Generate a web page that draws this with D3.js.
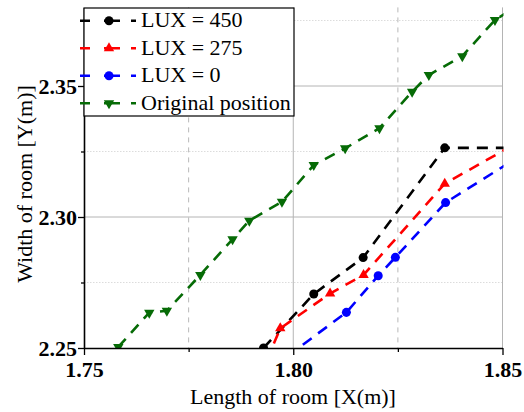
<!DOCTYPE html>
<html>
<head>
<meta charset="utf-8">
<script src="https://cdn.jsdelivr.net/npm/d3@7"></script>
<style>
  html, body { margin: 0; padding: 0; background: #fff; }
  svg { display: block; }
  text { font-family: "Liberation Serif", "Times New Roman", "DejaVu Serif", serif; }
</style>
</head>
<body>
<svg id="chart" width="524" height="412"></svg>
<script>
// ---- data ----
const seriesNames = ["LUX = 450", "LUX = 275", "LUX = 0", "Original position"];
const lux450X = [1.7929, 1.8049, 1.8167, 1.8362, 1.8600];
const lux450Y = [2.2500, 2.2706, 2.2845, 2.3264, 2.3264];
const lux275X = [1.7936, 1.7969, 1.8088, 1.8168, 1.8362, 1.8560];
const lux275Y = [2.2450, 2.2575, 2.2708, 2.2779, 2.3127, 2.3306];
const lux0X = [1.7950, 1.8127, 1.8203, 1.8244, 1.8364, 1.8560];
const lux0Y = [2.2426, 2.2636, 2.2776, 2.2846, 2.3055, 2.3251];
const origX = [1.7582, 1.7656, 1.7698, 1.7778, 1.7855, 1.7895, 1.7973, 1.8049, 1.8124, 1.8206, 1.8284, 1.8324, 1.8404, 1.8482, 1.8560];
const origY = [2.2504, 2.2635, 2.2642, 2.2779, 2.2915, 2.2986, 2.3058, 2.3198, 2.3262, 2.3339, 2.3478, 2.3542, 2.3614, 2.3752, 2.3830];
const xTickValues = [1.75, 1.80, 1.85];
const xTickLabels = ["1.75", "1.80", "1.85"];
const xMinorTicks = [1.775, 1.825];
const yTickValues = [2.25, 2.30, 2.35];
const yTickLabels = ["2.25", "2.30", "2.35"];
const yMinorTicks = [2.275, 2.325, 2.375];
const xLabel = "Length of room [X(m)]";
const yLabel = "Width of room [Y(m)]";

// ---- styling ----
const colors = ["#000000", "#ff0000", "#0000ff", "#066b06"];
const markers = ["circle", "triUp", "circle", "triDown"];

const svg = d3.select("#chart");
const pLeft = 84, pRight = 502.5, pTop = 7.4, pBottom = 348;
const x = d3.scaleLinear().domain([1.75, 1.85]).range([pLeft, pRight]);
const y = d3.scaleLinear().domain([2.25, 2.38]).range([pBottom, pTop]);

svg.append("defs").append("clipPath").attr("id", "plotclip")
  .append("rect").attr("x", pLeft).attr("y", pTop).attr("width", pRight - pLeft + 1).attr("height", pBottom - pTop);

// grid
const grid = svg.append("g");
grid.selectAll(".hmaj").data(yTickValues.slice(1)).join("line")
  .attr("x1", pLeft).attr("x2", pRight).attr("y1", d => y(d)).attr("y2", d => y(d))
  .attr("stroke", "#b4b4b4").attr("stroke-width", 1);
grid.selectAll(".hmin").data(yMinorTicks).join("line")
  .attr("x1", pLeft).attr("x2", pRight).attr("y1", d => y(d)).attr("y2", d => y(d))
  .attr("stroke", "#dcdcdc").attr("stroke-width", 1).attr("stroke-dasharray", "1.5,1.5");
grid.selectAll(".vmaj").data(xTickValues.slice(1)).join("line")
  .attr("x1", d => x(d)).attr("x2", d => x(d)).attr("y1", pTop).attr("y2", pBottom)
  .attr("stroke", "#b4b4b4").attr("stroke-width", 1);
grid.selectAll(".vmin").data(xMinorTicks).join("line")
  .attr("x1", d => x(d)).attr("x2", d => x(d)).attr("y1", pTop).attr("y2", pBottom)
  .attr("stroke", "#b8b8b8").attr("stroke-width", 1).attr("stroke-dasharray", "5,5");

// series
const series = [
  {xs: lux450X, ys: lux450Y},
  {xs: lux275X, ys: lux275Y},
  {xs: lux0X, ys: lux0Y},
  {xs: origX, ys: origY}
];
function markerPath(type) {
  if (type === "triUp") return "M0,-6L5.2,3L-5.2,3Z";
  if (type === "triDown") return "M0,6L5.2,-3L-5.2,-3Z";
  return d3.symbol(d3.symbolCircle, 64)();
}
const line = d3.line().x(d => x(d[0])).y(d => y(d[1]));
const plot = svg.append("g").attr("clip-path", "url(#plotclip)");
series.forEach((s, i) => {
  const pts = s.xs.map((v, k) => [v, s.ys[k]]);
  plot.append("path").attr("d", line(pts)).attr("fill", "none")
    .attr("stroke", colors[i]).attr("stroke-width", 2.6).attr("stroke-dasharray", "11,8");
  plot.selectAll(null).data(pts).join("path")
    .attr("transform", d => `translate(${x(d[0])},${y(d[1])})`)
    .attr("d", markerPath(markers[i])).attr("fill", colors[i]);
});

// axes
const xAxis = svg.append("g").attr("transform", `translate(0,${pBottom})`)
  .call(d3.axisBottom(x).tickValues(xTickValues).tickFormat((d, i) => xTickLabels[i]).tickSize(7).tickSizeOuter(0));
svg.append("g").attr("transform", `translate(0,${pBottom})`)
  .call(d3.axisBottom(x).tickValues(xMinorTicks).tickFormat("").tickSize(4).tickSizeOuter(0))
  .call(g => g.select(".domain").remove());
const yAxis = svg.append("g").attr("transform", `translate(${pLeft},0)`)
  .call(d3.axisLeft(y).tickValues(yTickValues).tickFormat((d, i) => yTickLabels[i]).tickSize(6).tickSizeOuter(0));
svg.append("g").attr("transform", `translate(${pLeft},0)`)
  .call(d3.axisLeft(y).tickValues(yMinorTicks.slice(0, 2)).tickFormat("").tickSize(3).tickSizeOuter(0))
  .call(g => g.select(".domain").remove());
[xAxis, yAxis].forEach(g => {
  g.attr("font-family", null);
  g.select(".domain").attr("stroke", "#000").attr("stroke-width", 1.6);
  g.selectAll(".tick text").attr("font-weight", "bold")
    .attr("font-size", 22).attr("fill", "#000");
});
svg.selectAll(".tick line").attr("stroke", "#000").attr("stroke-width", 1.3);
xAxis.selectAll(".tick text").attr("dy", "0.86em");
yAxis.selectAll(".tick text").attr("dx", 2);

// axis labels
svg.append("text").attr("x", 293).attr("y", 404).attr("text-anchor", "middle")
  .attr("font-size", 22).text(xLabel);
svg.append("text").attr("transform", "translate(31.5,184) rotate(-90)").attr("text-anchor", "middle")
  .attr("font-size", 22).text(yLabel);

// legend
const lg = svg.append("g");
lg.append("rect").attr("x", 84).attr("y", 8).attr("width", 210).attr("height", 108)
  .attr("fill", "#fff").attr("stroke", "#000").attr("stroke-width", 1.2);
seriesNames.forEach((name, i) => {
  const cy = 20.7 + i * 27.5;
  lg.append("line").attr("x1", 80).attr("x2", 136).attr("y1", cy).attr("y2", cy)
    .attr("stroke", colors[i]).attr("stroke-width", 2.6).attr("stroke-dasharray", "10,14,16,11,5");
  lg.append("path").attr("transform", `translate(109,${cy})`).attr("d", markerPath(markers[i]))
    .attr("fill", colors[i]);
  lg.append("text").attr("x", 141).attr("y", cy + 6.5).attr("font-size", 22).text(name);
});
</script>
</body>
</html>
